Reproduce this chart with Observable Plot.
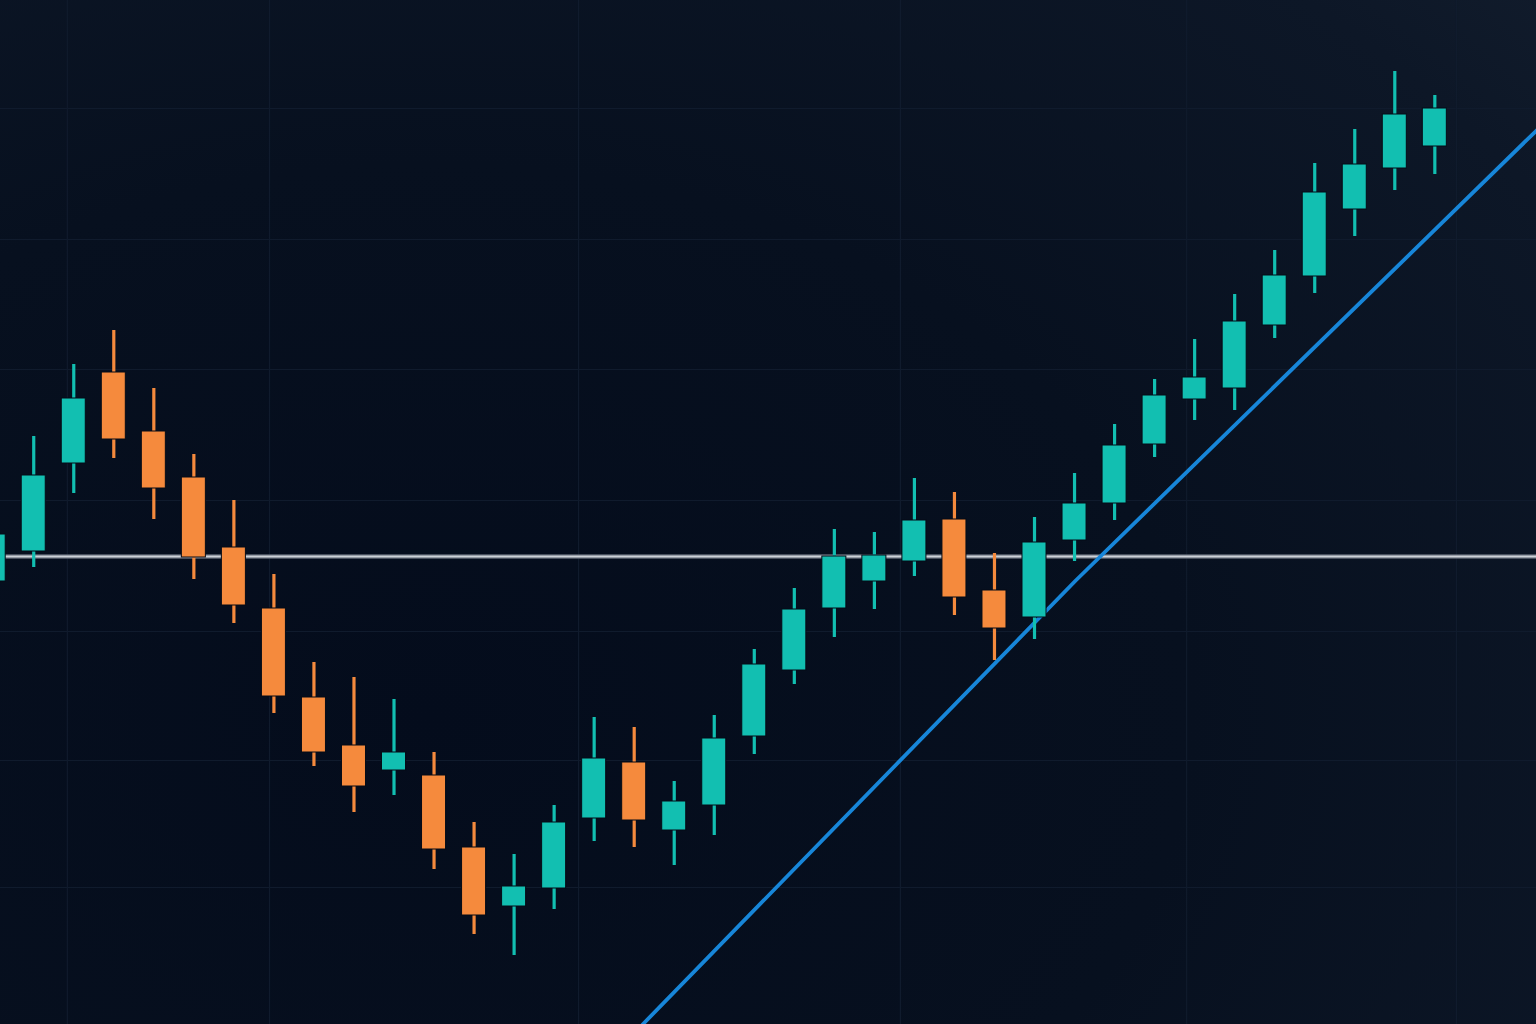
<!DOCTYPE html>
<html>
<head>
<meta charset="utf-8">
<script src="https://cdn.jsdelivr.net/npm/d3@7"></script>
<script src="https://cdn.jsdelivr.net/npm/@observablehq/plot@0.6"></script>
<style>
  html, body { margin: 0; padding: 0; background: #07101f; overflow: hidden; }
  #chart svg { display: block; }
</style>
</head>
<body>
<div id="chart"></div>
<script>
// Candle index (time step)
const steps = d3.range(37);
// OHLC values (price units)
const opens  = [97.5, 100.5, 109.3, 118.4, 112.5, 107.9, 100.9, 94.8, 85.9, 81.1, 78.6, 78.1, 70.9, 65.0, 66.8, 73.8, 79.4, 72.6, 75.1, 82.0, 88.6, 94.8, 97.5, 99.5, 103.7, 96.6, 93.9, 101.6, 105.3, 111.2, 115.7, 116.8, 123.1, 128.0, 134.7, 138.8, 141.0];
const highs  = [103.6, 112.0, 119.2, 122.6, 116.8, 110.2, 105.6, 98.2, 89.4, 87.9, 85.7, 80.4, 73.4, 70.2, 75.1, 83.9, 82.9, 77.5, 84.1, 90.7, 96.8, 102.7, 102.4, 107.8, 106.4, 100.3, 103.9, 108.3, 113.2, 117.7, 121.7, 126.2, 130.6, 139.3, 142.7, 148.5, 146.1];
const lows   = [96.4, 98.9, 106.3, 109.8, 103.7, 97.7, 93.3, 84.3, 79.0, 74.4, 76.1, 68.7, 62.2, 60.1, 64.7, 71.5, 70.9, 69.1, 72.1, 80.2, 87.2, 91.9, 94.7, 98.0, 94.1, 89.6, 91.7, 99.5, 103.6, 109.9, 113.6, 114.6, 121.8, 126.3, 132.0, 136.6, 138.2];
const closes = [102.2, 108.1, 115.8, 111.7, 106.8, 99.9, 95.1, 86.0, 80.4, 77.0, 80.4, 70.7, 64.1, 67.0, 73.4, 79.8, 73.6, 75.5, 81.8, 89.2, 94.7, 100.0, 100.1, 103.6, 95.9, 92.8, 101.4, 105.3, 111.1, 116.1, 117.9, 123.5, 128.1, 136.4, 139.2, 144.2, 144.8];

// Reference level and trend line
const levelPrice = [100];
const trendSteps  = [16.21, 27.03, 38.54];
const trendPrices = [53.2, 97.6, 142.6];

// Faint grid positions
const gridPrices = [144.8, 131.7, 118.7, 105.6, 92.5, 79.6, 66.9];
const gridSteps  = [1.84, 6.89, 14.61, 22.65, 29.80, 36.54];

const candles = steps.map(i => ({
  i, open: opens[i], high: highs[i], low: lows[i], close: closes[i],
  dir: closes[i] >= opens[i] ? "up" : "down"
}));
const trend = trendSteps.map((s, k) => ({s, p: trendPrices[k]}));

const teal = "#12bfb1";
const orange = "#f58a3d";
const gridColor = "#101b2d";
const halfBody = 0.3;

const chart = Plot.plot({
  width: 1536,
  height: 1024,
  margin: 0,
  x: {domain: [0.17, 38.54], axis: null},
  y: {domain: [53.2, 155.6], axis: null},
  color: {domain: ["up", "down"], range: [teal, orange]},
  style: {
    background: "radial-gradient(ellipse 110% 120% at 28% 70%, #040c1c 0%, #07101f 45%, #0d1727 78%, #152030 100%)",
    overflow: "hidden"
  },
  marks: [
    Plot.ruleY(gridPrices, {stroke: gridColor, strokeWidth: 1.2}),
    Plot.ruleX(gridSteps, {stroke: gridColor, strokeWidth: 1.2}),
    Plot.ruleY(levelPrice, {stroke: "#5c6572", strokeWidth: 4.5}),
    Plot.ruleY(levelPrice, {stroke: "#cdd2d8", strokeWidth: 2}),
    Plot.line(trend, {x: "s", y: "p", stroke: "#1786d9", strokeWidth: 3.8, clip: true}),
    Plot.ruleX(candles, {x: "i", y1: "low", y2: "high", stroke: "dir", strokeWidth: 3.2, clip: true}),
    Plot.rect(candles, {
      x1: d => d.i - halfBody, x2: d => d.i + halfBody,
      y1: "open", y2: "close",
      fill: "dir", stroke: "#050b16", strokeWidth: 1, clip: true
    })
  ]
});
document.getElementById("chart").appendChild(chart);
</script>
</body>
</html>
